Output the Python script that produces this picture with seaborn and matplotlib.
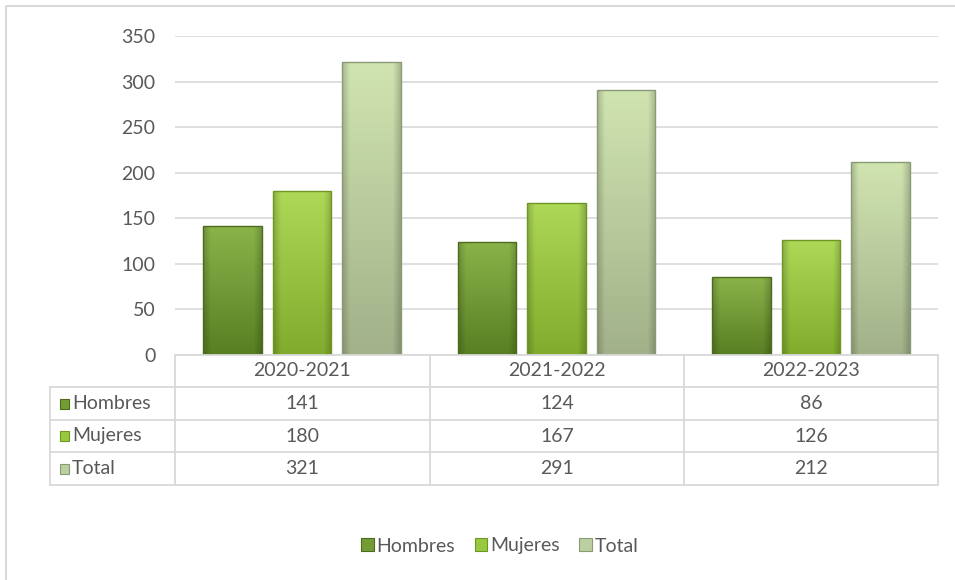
import numpy as np
import pandas as pd
import matplotlib.pyplot as plt
import seaborn as sns
from matplotlib.colors import to_rgb
from matplotlib.lines import Line2D
from matplotlib.patches import Rectangle

# Data
years = ["2020-2021", "2021-2022", "2022-2023"]
series = ["Hombres", "Mujeres", "Total"]
hombres = [141, 124, 86]
mujeres = [180, 167, 126]
total = [321, 291, 212]
yticks = [0, 50, 100, 150, 200, 250, 300, 350]

colors = ["#739d34", "#99c940", "#bccfa0"]
tops = ["#8ab34a", "#aed957", "#d0e4b0"]
bottoms = ["#587f22", "#80ab2c", "#a2b189"]
edges = ["#4c6b1c", "#6f9624", "#8a9a74"]
grid_c = "#d9d9d9"
text_c = "#595959"

df = pd.DataFrame({
    "year": years * 3,
    "serie": [s for s in series for _ in years],
    "value": hombres + mujeres + total,
})

sns.set_style("white")
plt.rcParams["font.family"] = ["Lato", "DejaVu Sans"]
FS = 14

W, H = 955, 580
fig = plt.figure(figsize=(9.55, 5.8), dpi=100)
fx = lambda px: px / W
fy = lambda py: 1 - py / H

ax_l, ax_r, ax_t, ax_b = 175, 938, 36, 355
ax = fig.add_axes([fx(ax_l), fy(ax_b), fx(ax_r - ax_l), fy(ax_t) - fy(ax_b)])

sns.barplot(data=df, x="year", y="value", hue="serie", palette=colors,
            width=0.82, gap=0.16, ax=ax, legend=False)

ax.set_ylim(0, 350)
ax.set_xlim(-0.5, 2.5)

# bevel-like gradient fill for each bar
def gradient(top, bottom, n=64):
    t = np.linspace(0, 1, n)[:, None]
    img = (1 - t) * np.array(to_rgb(top)) + t * np.array(to_rgb(bottom))
    img = img[:, None, :].repeat(32, axis=1)
    xs = np.linspace(-1, 1, 32)
    shade = 1 - 0.18 * np.clip((np.abs(xs) - 0.75) / 0.25, 0, 1)
    return np.clip(img * shade[None, :, None], 0, 1)

for i, cont in enumerate(ax.containers):
    img = gradient(tops[i], bottoms[i])
    for bar in cont:
        x0, y0 = bar.get_x(), bar.get_y()
        w, h = bar.get_width(), bar.get_height()
        bar.set_facecolor("none")
        bar.set_edgecolor(edges[i])
        bar.set_linewidth(1.0)
        im = ax.imshow(img, extent=[x0, x0 + w, y0, y0 + h], aspect="auto",
                       zorder=bar.get_zorder() - 0.1, interpolation="bilinear")
        im.set_clip_path(bar)

ax.set_ylim(0, 350)
ax.set_xlim(-0.5, 2.5)
ax.set_yticks(yticks)
ax.set_yticklabels([str(t) for t in yticks], color=text_c, fontsize=FS)
ax.tick_params(axis="y", length=0, pad=14)
ax.set_xticks([])
ax.set_xlabel("")
ax.set_ylabel("")
ax.yaxis.grid(True, color=grid_c, linewidth=1.2)
ax.set_axisbelow(True)
for s in ax.spines.values():
    s.set_visible(False)

# Data table below the plot
col_x = [175, 430, 684, 938]
row_y = [355, 387, 420, 452, 485]
left = 50

def hline(x0, x1, y):
    fig.add_artist(Line2D([fx(x0), fx(x1)], [fy(y), fy(y)], color=grid_c, lw=1.3))

def vline(x, y0, y1):
    fig.add_artist(Line2D([fx(x), fx(x)], [fy(y0), fy(y1)], color=grid_c, lw=1.3))

hline(col_x[0], col_x[-1], row_y[0])
for y in row_y[1:]:
    hline(left, col_x[-1], y)
for x in col_x:
    vline(x, row_y[0], row_y[-1])
vline(left, row_y[1], row_y[-1])

for j, yr in enumerate(years):
    cx = (col_x[j] + col_x[j + 1]) / 2
    fig.text(fx(cx), fy((row_y[0] + row_y[1]) / 2), yr, ha="center", va="center",
             color=text_c, fontsize=FS)

values = [hombres, mujeres, total]
for i, name in enumerate(series):
    cy = (row_y[i + 1] + row_y[i + 2]) / 2
    fig.add_artist(Rectangle((fx(60), fy(cy + 5)), fx(9), fy(cy - 5) - fy(cy + 5),
                             facecolor=colors[i], edgecolor=edges[i], lw=0.8))
    fig.text(fx(72), fy(cy), name, ha="left", va="center", color=text_c, fontsize=FS)
    for j in range(len(years)):
        cx = (col_x[j] + col_x[j + 1]) / 2
        fig.text(fx(cx), fy(cy), str(values[i][j]), ha="center", va="center",
                 color=text_c, fontsize=FS)

# Bottom legend
handles = [Rectangle((0, 0), 1, 1, facecolor=c, edgecolor=e, lw=0.8)
           for c, e in zip(colors, edges)]
fig.legend(handles, series, loc="center", bbox_to_anchor=(fx(500), fy(546)),
           ncol=3, frameon=False, handlelength=0.65, handleheight=0.65,
           handletextpad=0.15, columnspacing=1.0,
           prop={"size": FS}, labelcolor=text_c)

# Chart frame
fig.add_artist(Line2D([fx(6), fx(6), fx(955)], [fy(580), fy(6), fy(6)],
                      color=grid_c, lw=1.5))

fig.savefig("out.png", dpi=100)
plt.close(fig)
